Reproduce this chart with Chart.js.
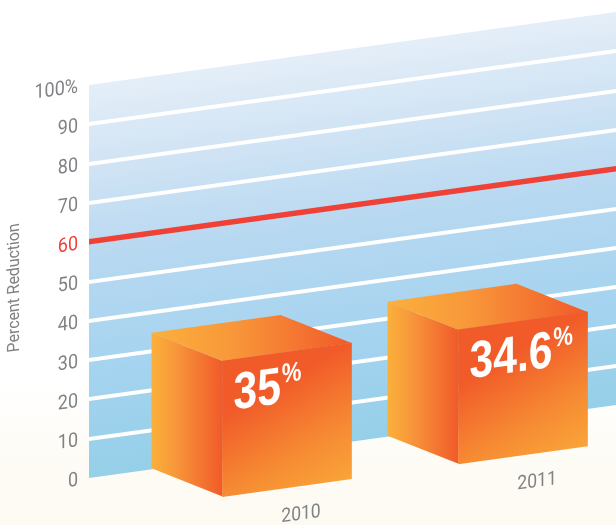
<!DOCTYPE html>
<html><head><meta charset="utf-8">
<style>html,body{margin:0;padding:0;background:#fff}#w{position:relative;width:616px;height:525px;overflow:hidden}canvas{display:block}</style>
<script src="https://cdn.jsdelivr.net/npm/chart.js@4"></script>
</head><body><div id="w"><canvas id="c" width="616" height="525"></canvas></div>
<script>
const years = [2010, 2011];
const reductions = [35, 34.6];
const tickValues = [0, 10, 20, 30, 40, 50, 60, 70, 80, 90, 100];
const goal = 60;
const axisTitle = 'Percent Reduction';

const FONT = 'Roboto, "Liberation Sans", sans-serif';
const BOLD = '"Liberation Sans", sans-serif';
const GREY = '#808285', RED = '#EF4136';
const SLOPE = -0.1385, WALL_LEFT = 89;
const DEPTH_X = -71, DEPTH_Y = -38, DROP = 39;
const DARK = '#F15A29', LIGHT = '#FBB03B';

function label(ctx, text, x, y, align, font, color, squeeze, rot) {
  ctx.save();
  ctx.translate(x, y);
  if (rot) ctx.rotate(rot);
  ctx.scale(squeeze, 1);
  ctx.font = font; ctx.fillStyle = color;
  ctx.textAlign = align; ctx.textBaseline = 'middle';
  ctx.fillText(text, 0, 0);
  ctx.restore();
}

const perspective = {
  id: 'perspective',
  beforeDraw(chart) {
    const {ctx, chartArea: a, width, height} = chart;
    const bg = ctx.createLinearGradient(0, 0, 0, height);
    bg.addColorStop(0, '#FFFFFF'); bg.addColorStop(0.72, '#FFFFFF');
    bg.addColorStop(0.86, '#FEFCF6'); bg.addColorStop(1, '#FDFAF2');
    ctx.fillStyle = bg; ctx.fillRect(0, 0, width, height);
    ctx.save();
    ctx.transform(1, SLOPE, 0, 1, 0, -SLOPE * WALL_LEFT);
    const wall = ctx.createLinearGradient(0, a.top, 0, a.bottom);
    wall.addColorStop(0, '#E4EEF8'); wall.addColorStop(0.22, '#CFE3F4');
    wall.addColorStop(0.45, '#B7D8F1'); wall.addColorStop(0.75, '#A4D3EF');
    wall.addColorStop(1, '#95CFE8');
    ctx.fillStyle = wall;
    ctx.fillRect(a.left, a.top, a.right - a.left + 10, a.bottom - a.top);
  },
  beforeDatasetsDraw(chart) {
    const {ctx} = chart;
    ctx.save();
    ctx.translate(0, DROP);
    chart.getDatasetMeta(0).data.forEach(b => {
      const l = b.x - b.width / 2, r = b.x + b.width / 2, t = b.y, bt = b.base;
      let g = ctx.createLinearGradient(l + DEPTH_X, 0, l, 0);
      g.addColorStop(0, LIGHT); g.addColorStop(0.35, '#F7963A'); g.addColorStop(1, DARK);
      ctx.fillStyle = g;
      ctx.beginPath();
      ctx.moveTo(l, t); ctx.lineTo(l, bt);
      ctx.lineTo(l + DEPTH_X, bt + DEPTH_Y); ctx.lineTo(l + DEPTH_X, t + DEPTH_Y);
      ctx.closePath(); ctx.fill();
      g = ctx.createLinearGradient(l + DEPTH_X, 0, r, 0);
      g.addColorStop(0, LIGHT); g.addColorStop(0.4, '#F8983A'); g.addColorStop(1, DARK);
      ctx.fillStyle = g;
      ctx.beginPath();
      ctx.moveTo(l, t); ctx.lineTo(r, t);
      ctx.lineTo(r + DEPTH_X, t + DEPTH_Y); ctx.lineTo(l + DEPTH_X, t + DEPTH_Y);
      ctx.closePath(); ctx.fill();
    });
  },
  afterDatasetsDraw(chart) {
    const {ctx} = chart;
    chart.getDatasetMeta(0).data.forEach((b, i) => {
      const x = b.x - b.width / 2 + 11, y = b.y + 50;
      ctx.save();
      ctx.translate(x, y);
      ctx.scale(0.82, 1);
      ctx.fillStyle = '#FFFFFF';
      ctx.textAlign = 'left'; ctx.textBaseline = 'alphabetic';
      ctx.font = 'bold 52px ' + BOLD;
      const s = String(reductions[i]);
      ctx.fillText(s, 0, 0);
      const w = ctx.measureText(s).width;
      ctx.font = 'bold 27px ' + BOLD;
      ctx.fillText('%', w + 1, -20);
      ctx.restore();
    });
    ctx.restore();
  },
  afterDraw(chart) {
    const {ctx, scales: {x: sx, y: sy}} = chart;
    const tickFont = '400 20px ' + FONT;
    tickValues.forEach(v => {
      label(ctx, v === 100 ? v + '%' : String(v), 78, sy.getPixelForValue(v) + 1, 'right',
        tickFont, v === goal ? RED : GREY, 0.9);
    });
    years.forEach(v => {
      label(ctx, String(v), sx.getPixelForValue(v) + 14, sy.getPixelForValue(0) + 66, 'center',
        '400 19.5px ' + FONT, GREY, 0.9);
    });
    label(ctx, axisTitle, 15, (sy.top + sy.bottom) / 2 - 4, 'center',
      '400 17px ' + FONT, GREY, 0.93, -Math.PI / 2);
    ctx.restore();
  }
};

function frontGradient(c) {
  const {x: sx, y: sy} = c.chart.scales;
  const cx = sx.getPixelForValue(years[c.dataIndex]);
  const top = sy.getPixelForValue(reductions[c.dataIndex]), base = sy.getPixelForValue(0);
  if (!isFinite(cx) || !isFinite(top) || !isFinite(base)) return DARK;
  const g = c.chart.ctx.createLinearGradient(cx - 30, top + DROP, cx + 30, base + DROP);
  g.addColorStop(0, DARK); g.addColorStop(0.5, '#F68B33'); g.addColorStop(1, LIGHT);
  return g;
}

new Chart(document.getElementById('c'), {
  type: 'bar',
  data: { datasets: [{
    data: years.map((y, i) => ({x: y, y: reductions[i]})),
    backgroundColor: frontGradient,
    borderWidth: 0,
    barThickness: 129,
    clip: false
  }]},
  plugins: [perspective],
  options: {
    responsive: false, animation: false,
    layout: {padding: {top: 85, left: 0, right: 0, bottom: 0}},
    plugins: {legend: {display: false}, tooltip: {enabled: false}, title: {display: false}},
    scales: {
      x: {
        type: 'linear', offset: false, min: 2009.161, max: 2011.394,
        afterBuildTicks: s => { s.ticks = years.map(v => ({value: v})); },
        afterFit: s => { s.height = 47; },
        grid: {display: false}, border: {display: false},
        ticks: {display: false}
      },
      y: {
        min: 0, max: 100,
        afterBuildTicks: s => { s.ticks = tickValues.map(v => ({value: v})); },
        afterFit: s => { s.width = 89; },
        border: {display: false},
        grid: {
          drawTicks: false,
          color: c => c.tick.value === goal ? RED : (c.tick.value === 0 || c.tick.value === 100 ? 'rgba(0,0,0,0)' : '#FFFFFF'),
          lineWidth: c => c.tick.value === goal ? 5.5 : 4
        },
        ticks: {display: false}
      }
    }
  }
});
</script></body></html>
